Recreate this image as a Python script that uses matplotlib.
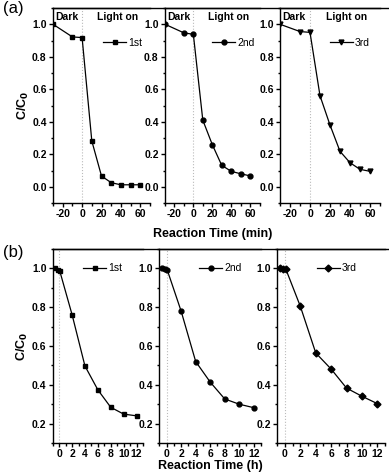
import matplotlib
matplotlib.use('Agg')
import matplotlib.pyplot as plt
from matplotlib.lines import Line2D
from matplotlib.ticker import MultipleLocator

plt.rcParams['font.family'] = ['Liberation Sans', 'DejaVu Sans']
plt.rcParams['axes.unicode_minus'] = False

# (a) ciclos en minutos
t_min = [-30, -10, 0, 10, 20, 30, 40, 50, 60]
a_1st = [1.0, 0.922, 0.918, 0.282, 0.066, 0.025, 0.012, 0.012, 0.012]
a_2nd = [1.0, 0.947, 0.938, 0.41, 0.26, 0.132, 0.095, 0.08, 0.067]
a_3rd = [1.0, 0.955, 0.95, 0.56, 0.38, 0.218, 0.148, 0.107, 0.095]

# (b) ciclos en horas
t_h = [-0.6, -0.25, 0.1, 2, 4, 6, 8, 10, 12]
b_1st = [1.0, 0.993, 0.986, 0.762, 0.497, 0.374, 0.284, 0.249, 0.24]
b_2nd = [1.0, 0.997, 0.99, 0.779, 0.52, 0.414, 0.327, 0.30, 0.282]
b_3rd = [1.0, 0.997, 0.997, 0.804, 0.564, 0.481, 0.383, 0.341, 0.303]

labels = ['1st', '2nd', '3rd']

W, H = 389, 476
fig = plt.figure(figsize=(W / 100, H / 100), dpi=100)


def rect(x0, x1, y0, y1):
    # caja en pixeles -> fraccion de figura
    return [x0 / W, 1 - y1 / H, (x1 - x0) / W, (y1 - y0) / H]


def style(ax):
    ax.spines['right'].set_visible(False)
    for s in ['left', 'bottom', 'top']:
        ax.spines[s].set_linewidth(1.0)
    ax.tick_params(which='both', direction='out', top=False, right=False,
                   labelsize=7.5, width=1.0, pad=1.5)
    ax.tick_params(which='major', length=3)
    ax.tick_params(which='minor', length=1.8)
    for lab in ax.get_xticklabels() + ax.get_yticklabels():
        lab.set_fontweight('bold')
    ax.axvline(0, color='#bbbbbb', linestyle=':', linewidth=0.8, zorder=0)


top_boxes = [(53, 150), (165, 259.5), (280, 380)]
top_data = [a_1st, a_2nd, a_3rd]
top_marks = ['s', 'o', 'v']
top_leg = [0.92, 0.95, 0.9]

for i in range(3):
    ax = fig.add_axes(rect(top_boxes[i][0], top_boxes[i][1], 8, 203))
    ax.plot(t_min, top_data[i], color='black', marker=top_marks[i],
            markersize=3.5, linewidth=0.9, label=labels[i])
    ax.set_xlim(-30, 70)
    ax.set_ylim(-0.1, 1.1)
    ax.set_xticks([-20, 0, 20, 40, 60])
    ax.xaxis.set_minor_locator(MultipleLocator(10))
    ax.yaxis.set_major_locator(MultipleLocator(0.2))
    ax.yaxis.set_minor_locator(MultipleLocator(0.1))
    style(ax)
    ax.text(-28, 1.045, 'Dark', fontsize=7.5, fontweight='bold', va='center')
    ax.text(37, 1.045, 'Light on', fontsize=7.5, fontweight='bold',
            va='center', ha='center')
    ax.legend(loc='center right', bbox_to_anchor=(top_leg[i], 0.82),
              frameon=False, fontsize=7.5, handlelength=2.2, handletextpad=0.2,
              borderpad=0, borderaxespad=0)
    if i == 0:
        ax.set_ylabel(r'C/C$_\mathbf{0}$', fontsize=9, fontweight='bold',
                      labelpad=1)
    if i == 1:
        ax.set_xlabel('Reaction Time (min)', fontsize=9, fontweight='bold',
                      labelpad=6)

bot_boxes = [(52.7, 143), (159.4, 261), (277.3, 385)]
bot_data = [b_1st, b_2nd, b_3rd]
bot_marks = ['s', 'o', 'D']
bot_leg = [0.77, 0.81, 0.74]

for i in range(3):
    ax = fig.add_axes(rect(bot_boxes[i][0], bot_boxes[i][1], 249, 443))
    ax.plot(t_h, bot_data[i], color='black', marker=bot_marks[i],
            markersize=3.5, linewidth=0.9, label=labels[i])
    ax.set_xlim(-1, 13)
    ax.set_ylim(0.1, 1.1)
    ax.set_xticks([0, 2, 4, 6, 8, 10, 12])
    ax.xaxis.set_minor_locator(MultipleLocator(1))
    ax.set_yticks([0.2, 0.4, 0.6, 0.8, 1.0])
    ax.yaxis.set_minor_locator(MultipleLocator(0.1))
    style(ax)
    ax.legend(loc='center right', bbox_to_anchor=(bot_leg[i], 0.9),
              frameon=False, fontsize=7.5, handlelength=2.2, handletextpad=0.2,
              borderpad=0, borderaxespad=0)
    if i == 0:
        ax.set_ylabel(r'C/C$_\mathbf{0}$', fontsize=9, fontweight='bold',
                      labelpad=1)
    if i == 1:
        ax.set_xlabel('Reaction Time (h)', fontsize=9, fontweight='bold',
                      labelpad=0.5)

# borde superior continuo
fig.add_artist(Line2D([53 / W, 389 / W], [1 - 8 / H] * 2, color='black', lw=1.0))
fig.add_artist(Line2D([52.7 / W, 389 / W], [1 - 249 / H] * 2, color='black', lw=1.0))

fig.text(3 / W, 1 - 9 / H, '(a)', fontsize=12, va='center')
fig.text(3 / W, 1 - 253 / H, '(b)', fontsize=12, va='center')

fig.savefig('out.png', dpi=100)
